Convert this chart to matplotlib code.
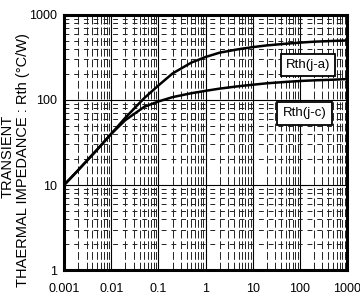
import matplotlib
matplotlib.use('Agg')

import matplotlib.pyplot as plt
import numpy as np

plt.rcParams['font.family'] = ['Liberation Sans', 'DejaVu Sans']

# pulse width (s)
t = [0.001, 0.002, 0.005, 0.01, 0.02, 0.05, 0.1, 0.2, 0.5, 1, 2, 5, 10, 20, 50, 100, 200, 500, 1000]
# Rth(j-a) (C/W)
rth_ja = [10, 15, 26, 40, 62, 105, 148, 205, 275, 320, 360, 395, 418, 438, 458, 472, 484, 494, 500]
# Rth(j-c) (C/W)
rth_jc = [10, 15, 26, 40, 58, 83, 96, 108, 120, 128, 136, 145, 151, 157, 163, 167, 170, 173, 176]

xticks = [0.001, 0.01, 0.1, 1, 10, 100, 1000]
xlabels = ['0.001', '0.01', '0.1', '1', '10', '100', '1000']
yticks = [1, 10, 100, 1000]
ylabels = ['1', '10', '100', '1000']

fig = plt.figure(figsize=(3.6, 2.92), dpi=100)
ax = fig.add_axes([0.178, 0.075, 0.786, 0.874])

ax.set_xscale('log')
ax.set_yscale('log')
ax.set_xlim(0.001, 1000)
ax.set_ylim(1, 1000)

ax.grid(True, which='major', color='black', lw=0.8)
ax.xaxis.grid(True, which='minor', color='#222222', lw=0.7, linestyle=(0, (8, 3)))
ax.yaxis.grid(True, which='minor', color='#222222', lw=0.7, linestyle=(0, (5, 5)))

ax.plot(t, rth_ja, color='black', lw=1.8)
ax.plot(t, rth_jc, color='black', lw=1.8)

box = dict(boxstyle='square,pad=0.4', fc='white', ec='black', lw=1.3)
ax.text(0.862, 0.804, 'Rth(j-a)', transform=ax.transAxes, ha='center', va='center',
        fontsize=9.5, bbox=box)
ax.text(0.850, 0.614, 'Rth(j-c)', transform=ax.transAxes, ha='center', va='center',
        fontsize=9.5, bbox=box)

ax.set_xticks(xticks)
ax.set_xticklabels(xlabels)
ax.set_yticks(yticks)
ax.set_yticklabels(ylabels)
ax.tick_params(which='both', length=0, labelsize=9)
ax.tick_params(axis='x', pad=9.5)
ax.tick_params(axis='y', pad=5)

for s in ax.spines.values():
    s.set_linewidth(2.2)

fig.text(0.022, 0.465, 'TRANSIENT', rotation=90, ha='center', va='center', fontsize=10.5)
fig.text(0.064, 0.452, 'THAERMAL IMPEDANCE : Rth (°C/W)', rotation=90, ha='center', va='center', fontsize=10.5)

fig.savefig('out.png', dpi=100)
